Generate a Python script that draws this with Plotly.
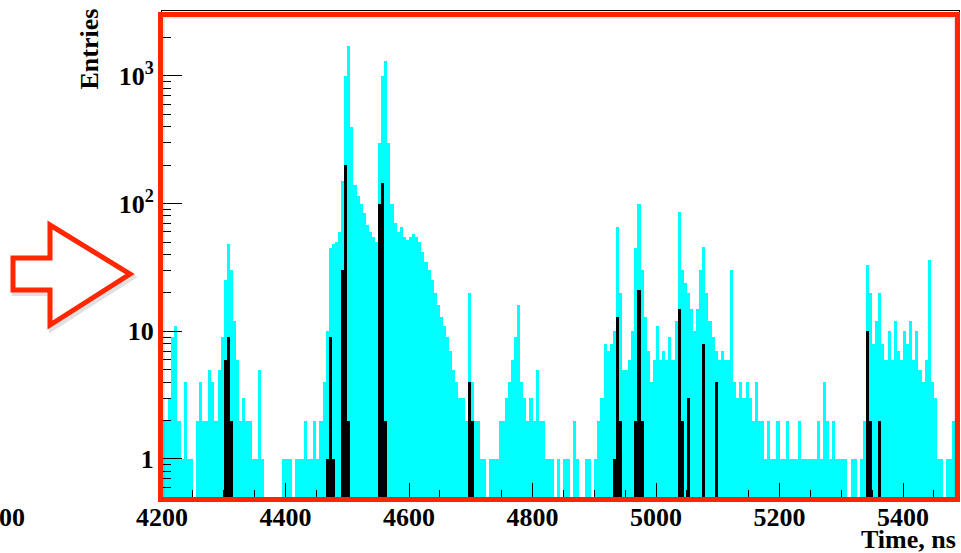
import plotly.graph_objects as go

# ---------------- data ----------------
bin_start = 4200          # first bin edge, ns
bin_width = 5             # ns
cyan_counts = [
    2, 2, 3, 9, 11, 2, 1, 4, 1, 1,
    0, 2, 4, 2, 2, 5, 4, 2, 5, 9,
    25, 48, 30, 12, 6, 2, 3, 2, 2, 1,
    1, 5, 1, 0, 0, 0, 0, 0, 0, 1,
    1, 1, 0, 1, 1, 1, 2, 1, 1, 2,
    1, 2, 4, 10, 45, 48, 50, 60, 150, 1000,
    1700, 400, 140, 115, 100, 85, 68, 60, 55, 50,
    300, 1000, 1300, 300, 100, 70, 60, 65, 55, 52,
    55, 58, 55, 50, 42, 35, 30, 25, 20, 16,
    13, 11, 9, 7, 5, 4, 3, 3, 2, 20,
    4, 2, 2, 1, 1, 0, 1, 1, 1, 2,
    2, 3, 4, 6, 9, 16, 4, 3, 2, 3,
    2, 5, 2, 2, 1, 1, 1, 0, 1, 0,
    1, 1, 0, 2, 1, 0, 0, 1, 1, 0,
    1, 2, 3, 8, 7, 8, 10, 65, 20, 5,
    5, 6, 10, 45, 100, 30, 13, 7, 4, 6,
    11, 6, 7, 6, 9, 6, 12, 86, 30, 24,
    20, 15, 10, 15, 30, 46, 20, 12, 9, 7,
    6, 7, 6, 6, 30, 4, 3, 4, 3, 4,
    3, 2, 4, 2, 2, 1, 2, 1, 1, 2,
    1, 1, 2, 1, 1, 1, 2, 1, 1, 1,
    1, 1, 2, 1, 4, 2, 1, 2, 1, 1,
    1, 1, 0, 1, 1, 0, 1, 2, 33, 20,
    8, 12, 20, 8, 6, 10, 6, 12, 7, 6,
    10, 8, 12, 6, 10, 5, 4, 6, 36, 4,
    3, 1, 1, 0, 1, 1, 2, 0,
]
black_bins = [4300, 4305, 4310, 4465, 4470, 4475, 4490, 4495, 4500, 4550,
              4555, 4560, 4695, 4700, 4930, 4935, 4940, 4965, 4970, 4975,
              5035, 5040, 5050, 5075, 5095, 5340, 5345, 5360]
black_counts = [6, 9, 2, 1, 9, 1, 30, 200, 2, 100,
                145, 2, 4, 2, 1, 13, 2, 2, 21, 2,
                15, 2, 3, 8, 4, 10, 2, 2]

x_tick_vals = [4200, 4400, 4600, 4800, 5000, 5200, 5400]
y_tick_vals = [1, 10, 100, 1000]
y_tick_text = ["1", "10", "10<sup>2</sup>", "10<sup>3</sup>"]
x_title = "Time, ns"
y_title = "Entries"

# ---------------- layout geometry ----------------
W, H = 961, 553
L, R, T, B = 162, 2, 11, 56
PW, PH = W - L - R, H - T - B


def px2x(px):
    return (px - L) / PW


def py2y(py):
    return (H - B - py) / PH


cyan_x = [bin_start + bin_width * (i + 0.5) for i in range(len(cyan_counts))]
cyan_y = [v if v > 0 else None for v in cyan_counts]
black_x = [b + bin_width / 2 for b in black_bins]

FONT = "Liberation Serif"

fig = go.Figure()
fig.add_trace(go.Bar(x=cyan_x, y=cyan_y, width=bin_width,
                     marker=dict(color="#00FFFF", line=dict(width=0)),
                     hoverinfo="skip", showlegend=False))
fig.add_trace(go.Bar(x=black_x, y=black_counts, width=bin_width,
                     marker=dict(color="#000000", line=dict(width=0)),
                     hoverinfo="skip", showlegend=False))

minor_y = [0.6, 0.7, 0.8, 0.9] + [m * 10 ** e for e in range(0, 3) for m in range(2, 10)] + [2000, 3000]

fig.update_layout(
    width=W, height=H,
    margin=dict(l=L, r=R, t=T, b=B, pad=0),
    paper_bgcolor="white", plot_bgcolor="white",
    barmode="overlay", bargap=0,
    showlegend=False,
    font=dict(family=FONT, size=26, color="black"),
    xaxis=dict(
        range=[4200, 4200 + PW / 0.6175],
        tickmode="array", tickvals=x_tick_vals,
        ticks="inside", ticklen=14, tickwidth=1, tickcolor="black",
        minor=dict(dtick=50, tick0=4200, ticks="inside", ticklen=7,
                   tickwidth=1, tickcolor="black"),
        showline=True, mirror=True, linecolor="black", linewidth=1,
        showgrid=False, zeroline=False, automargin=False,
        tickfont=dict(family=FONT, size=26, color="black", weight="bold"),
        ticklabelstandoff=-3,
    ),
    yaxis=dict(
        type="log", range=[-0.298, 3.508],
        tickmode="array", tickvals=y_tick_vals, ticktext=y_tick_text,
        ticks="inside", ticklen=20, tickwidth=1, tickcolor="black",
        minor=dict(tickmode="array", tickvals=minor_y, ticks="inside",
                   ticklen=9, tickwidth=1, tickcolor="black"),
        showline=True, mirror=True, linecolor="black", linewidth=1,
        showgrid=False, zeroline=False, automargin=False,
        tickfont=dict(family=FONT, size=26, color="black", weight="bold"),
        ticklabelstandoff=2,
    ),
)

RED = "rgb(255,38,0)"
shapes = []
# soft shadow of the red frame
shapes.append(dict(type="rect", xref="paper", yref="paper",
                   x0=px2x(163.5), x1=px2x(955.5), y0=py2y(498.5), y1=py2y(17),
                   line=dict(color="rgba(0,0,0,0.10)", width=3), fillcolor="rgba(0,0,0,0)"))
# red frame
shapes.append(dict(type="rect", xref="paper", yref="paper",
                   x0=px2x(160.5), x1=px2x(957.5), y0=py2y(499.5), y1=py2y(14.5),
                   line=dict(color=RED, width=5), fillcolor="rgba(0,0,0,0)"))

arrow_pts = [(13, 258), (50, 258), (50, 225), (130, 274), (50, 325), (50, 290), (13, 290)]


def path_of(pts, dx=0, dy=0):
    s = "M " + " L ".join(f"{px2x(x + dx):.5f},{py2y(y + dy):.5f}" for x, y in pts)
    return s + " Z"


shapes.append(dict(type="path", xref="paper", yref="paper", path=path_of(arrow_pts, 2, 3),
                   line=dict(color="rgba(0,0,0,0.12)", width=6), fillcolor="rgba(0,0,0,0)"))
shapes.append(dict(type="path", xref="paper", yref="paper", path=path_of(arrow_pts),
                   line=dict(color=RED, width=5), fillcolor="white"))
fig.update_layout(shapes=shapes)

fig.add_annotation(text=f"<b>{y_title}</b>", xref="paper", yref="paper",
                   x=px2x(89), y=py2y(7), xanchor="center", yanchor="top",
                   textangle=-90, showarrow=False,
                   font=dict(family=FONT, size=26, color="black"))
fig.add_annotation(text=f"<b>{x_title}</b>", xref="paper", yref="paper",
                   x=px2x(958), y=py2y(539), xanchor="right", yanchor="middle",
                   showarrow=False, font=dict(family=FONT, size=26, color="black"))
fig.add_annotation(text="<b>000</b>", xref="paper", yref="paper",
                   x=px2x(27), y=py2y(517), xanchor="right", yanchor="middle",
                   showarrow=False, font=dict(family=FONT, size=26, color="black"))

fig.write_html("out.html", config={"displayModeBar": False},
               post_script="document.body.style.margin='0';document.body.style.overflow='hidden';")
